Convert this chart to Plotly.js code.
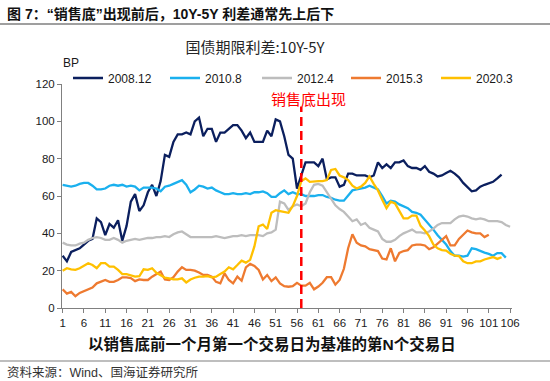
<!DOCTYPE html>
<html><head><meta charset="utf-8">
<script src="https://cdn.plot.ly/plotly-3.0.1.min.js"></script>
<style>html,body{margin:0;padding:0;background:#fff}#chart{width:550px;height:381px}</style>
</head><body><div id="chart"></div>
<script>
const seriesNames = ['2008.12', '2010.8', '2012.4', '2015.3', '2020.3'];
const seriesColors = ['#0B1F5E', '#1AB0EE', '#BDBDBD', '#EE7A30', '#FFC000'];

const s2008_12 = [28,25,30,31,32,34,36,37,48,46, 39,45,43,47,36,44,57,61,52,55, 62,66,60,68,82,81,89,93,93,94, 93,100,102,92,96,96,89,94,94,96, 98,98,95,91,94,89,89,89,95,92, 101,100,92,82,80,64,71,78,78,78, 76,80,69,70,70,65,66,72,72,71, 71,71,70,71,78,75,77,75,78,78, 79,76,75,75,74,76,73,72,70.5,71, 72.3,73.5,72,70,67,65,62.5,63,65,66, 67,67.6,69.5,71.5];
const s2010_8 = [66,65.5,65,65.5,66.5,67,67,65.5,63.5,63.5, 64,65.5,66,65.5,66,65,65.5,65,63,64.5, 64.5,64.5,64,62.5,65,65.5,66.5,67.5,68.5,66, 62,63.5,65.5,65,64,64.5,63,62,61,61, 61.5,61,61,61.5,61,62,62,62.5,61.5,59.5, 59.5,61.5,63,61,62,61,61,60,60,60, 60.5,60.5,59.5,59,58,57.5,57.5,60,63,63.5, 64,64.5,65.5,64.5,63.5,60,56,57.5,57,55.5, 54.5,53.5,51.5,51,50,47.5,44.5,42,39,36.5, 34,30.5,28,28,27.5,28,32,31.5,30.5,29.7, 29,28,29.4,29.4,27];
const s2012_4 = [35,34,33.5,33.5,34.5,35,36.5,37.5,38,37.5, 36.5,36.5,37.5,36.5,35,36,36.5,37,36.5,37, 37.5,37.5,38,38,38.5,38,39.5,40.5,41,39.5, 38,38,38,38,38,38,38.5,38,37.5,38, 38.5,38.5,39,38.5,39,39,39,38.5,40,40.5, 42,57,56,52.5,54.5,55.5,54.5,56,62,66, 66.5,65.5,62,58,55,53,51.5,49,46.5,47.5, 44.5,45.5,43,42,41,37,35.5,35.5,36.5,38.5, 40,41,42,40.5,40.5,40,41,42.5,44.5,45.5, 45.5,45.5,47.5,49,49.5,49,48,47.5,48,47.5, 46.5,46.5,46.5,46,44.5,43.5];
const s2015_3 = [10,7.7,8.6,6.3,8.1,9,10,11,13.2,14, 15,14,14,15,16.4,16.4,16,14.4,15.3,15, 15,16.8,18,19.5,15.3,15,16.5,19.5,21.8,20.4, 20.4,20,19,17.7,17.7,16.8,14,13.2,18.6,15, 13.2,16.8,14.6,21.8,23.6,22.5,20.4,15.3,17.7,14.4, 16.4,13.2,11.7,11.4,11.7,13.5,12,12,13.5,10, 11.5,13.5,16.5,16.5,12.5,15,21,32,39.5,35, 33.5,33,31.5,31,30.5,26.5,26,32,25,29.5, 30.5,31,33.5,34,34,33.5,31.5,32.5,34.5,36.5, 38.5,33.5,33.5,37,39,41.5,40.5,40,40,38, 39.3];
const s2020_3 = [20,21.3,20.7,20.4,21.3,22.5,24,23,21.3,24, 24,22.2,22.2,20.4,18.2,18.2,17.7,16.8,17,20.7, 20.4,21.3,18.9,17.7,16.2,15.9,15.3,15.3,15.9,13.7, 15.3,16.2,16.8,16.8,17.1,16.4,16.8,18.2,19.5,21.8, 20.7,23,25.4,24.3,25.8,33,43.8,44.7,42.3,51, 52.4,51.9,51.5,51,54.6,60,68,69.4,67.6,68, 68,68,68.5,74,74.5,71,70,68.5,65.5,64, 65,67,70.5,66.5,63,58,53.5,57,56,52, 48,48,49.5,49.5,44,41.5,38.5,34,32,31, 30.8,29,28,27.8,25,24,24,25,25,26, 26.8,27.3,26.3,27.2];

const xTickVals = [1,6,11,16,21,26,31,36,41,46,51,56,61,66,71,76,81,86,91,96,101,106];
const yTickVals = [0,20,40,60,80,100,120];
const saleBottomDay = 57;

const seriesData = [s2008_12, s2010_8, s2012_4, s2015_3, s2020_3];
const legendIds = ['legend', 'legend2', 'legend3', 'legend4', 'legend5'];
const legendX = [68, 165, 257, 346, 436];

const traces = seriesData.map((vals, k) => ({
  type: 'scatter', mode: 'lines', name: seriesNames[k],
  x: vals.map((_, i) => i + 1), y: vals,
  line: {color: seriesColors[k], width: 2.3},
  legend: legendIds[k], hoverinfo: 'skip'
}));

const W = 550, H = 381, L = 62, R = 38, T = 84, B = 73;
const pw = W - L - R, ph = H - T - B;
const px = v => (v - L) / pw;
const py = v => (H - B - v) / ph;

const latin = 'Liberation Sans, Noto Sans CJK SC, sans-serif';
const cjk = 'Noto Sans CJK SC, Liberation Sans, sans-serif';

const layout = {
  width: W, height: H,
  margin: {l: L, r: R, t: T, b: B, pad: 0},
  paper_bgcolor: '#fff', plot_bgcolor: '#fff',
  showlegend: true,
  title: {text: '国债期限利差:10Y-5Y', font: {family: cjk, size: 15, color: '#262626'},
          x: 255 / W, xref: 'container', xanchor: 'center', y: 1 - 48 / H, yref: 'container', yanchor: 'middle'},
  xaxis: {range: [0.85, 106.45], tickvals: xTickVals, ticktext: xTickVals.map(String),
          showline: true, linecolor: '#808080', linewidth: 1, ticks: 'outside', ticklen: 4, tickcolor: '#808080',
          showgrid: false, zeroline: false, tickfont: {family: latin, size: 11.5, color: '#1a1a1a'}, fixedrange: true},
  yaxis: {range: [0, 120], tickvals: yTickVals, showline: true, linecolor: '#808080', linewidth: 1,
          ticks: 'outside', ticklen: 4, tickcolor: '#808080', showgrid: false, zeroline: false,
          tickfont: {family: latin, size: 11.5, color: '#1a1a1a'}, fixedrange: true},
  shapes: [
    {type: 'line', xref: 'x', yref: 'y', x0: saleBottomDay, x1: saleBottomDay, y0: 0, y1: 108,
     line: {color: '#FF0000', width: 2.5, dash: '9px,5px'}},
    {type: 'line', xref: 'paper', yref: 'paper', x0: px(0), x1: px(W), y0: py(24), y1: py(24),
     line: {color: '#7f7f7f', width: 1.5}},
    {type: 'line', xref: 'paper', yref: 'paper', x0: px(0), x1: px(W), y0: py(361), y1: py(361),
     line: {color: '#7f7f7f', width: 1.2}}
  ],
  annotations: [
    {text: '<b>图 7：“销售底”出现前后，10Y-5Y 利差通常先上后下</b>', xref: 'paper', yref: 'paper',
     x: px(5), y: py(14), xanchor: 'left', yanchor: 'middle', showarrow: false,
     font: {family: latin, size: 14, color: '#111'}},
    {text: 'BP', xref: 'paper', yref: 'paper', x: px(61), y: py(63), xanchor: 'left', yanchor: 'middle',
     showarrow: false, font: {family: latin, size: 12, color: '#1a1a1a'}},
    {text: '销售底出现', xref: 'paper', yref: 'paper', x: px(308), y: py(98), xanchor: 'center', yanchor: 'middle',
     showarrow: false, font: {family: cjk, size: 15, color: '#FF0000'}},
    {text: '<b>以销售底前一个月第一个交易日为基准的第N个交易日</b>', xref: 'paper', yref: 'paper',
     x: px(272), y: py(344), xanchor: 'center', yanchor: 'middle', showarrow: false,
     font: {family: latin, size: 15.5, color: '#111'}},
    {text: '资料来源：Wind、国海证券研究所', xref: 'paper', yref: 'paper', x: px(5), y: py(372),
     xanchor: 'left', yanchor: 'middle', showarrow: false, font: {family: latin, size: 12.5, color: '#333'}}
  ]
};

legendIds.forEach((id, k) => {
  layout[id] = {x: px(legendX[k]), y: py(78), xref: 'paper', yref: 'paper', xanchor: 'left', yanchor: 'middle',
    orientation: 'h', bgcolor: 'rgba(0,0,0,0)', borderwidth: 0, itemwidth: 30,
    font: {family: latin, size: 12, color: '#1a1a1a'}, itemclick: false, itemdoubleclick: false};
});

Plotly.newPlot('chart', traces, layout, {staticPlot: true, displayModeBar: false});
</script>
</body></html>
